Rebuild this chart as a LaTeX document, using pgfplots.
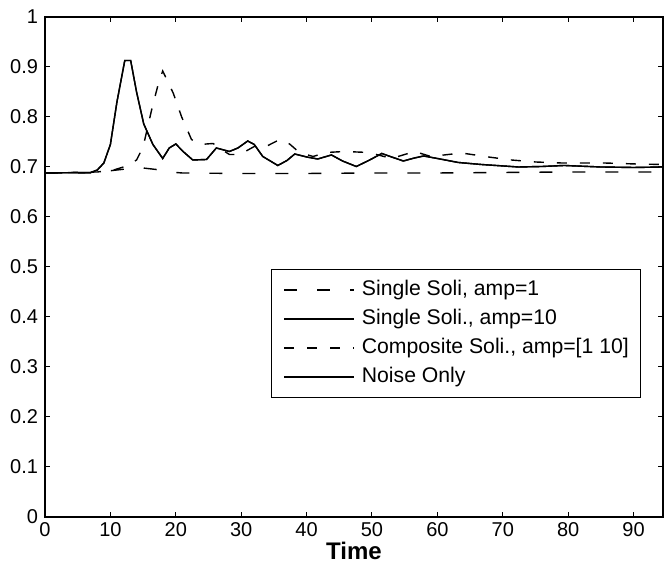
\documentclass[border=0pt]{standalone}
\usepackage{fontspec}
\setmainfont{Liberation Sans}
\usepackage{pgfplots}
\pgfplotsset{compat=1.18}
\begin{document}
\begin{tikzpicture}
\begin{axis}[
  scale only axis,
  width=309pt, height=250pt,
  xmin=0, xmax=94.5, ymin=0, ymax=1,
  xtick={0,10,...,90},
  ytick={0,0.1,...,1},
  yticklabels={0,0.1,0.2,0.3,0.4,0.5,0.6,0.7,0.8,0.9,1},
  tick align=inside,
  major tick length=2.5pt,
  tick style={line width=0.5pt, black},
  axis line style={line width=0.6pt},
  /pgf/number format/assume math mode=true,
  tick label style={font=\fontsize{10}{12}\selectfont},
  xlabel={Time},
  xlabel style={font=\bfseries\fontsize{12}{14}\selectfont, yshift=4pt},
  xticklabel style={yshift=1pt},
  legend style={at={(0.3657,0.238)}, anchor=south west, draw=black, line width=0.5pt,
    font=\fontsize{10.6}{13}\selectfont, inner xsep=6pt, inner ysep=5pt,
    nodes={inner sep=0pt, text height=8pt, text depth=2.5pt},
    row sep=4pt, column sep=3.5pt},
  legend cell align=left,
  legend image code/.code={\draw[#1] (0cm,0cm) -- (35pt,0cm);},
]
\addplot[black, line width=0.7pt, dash pattern=on 6.5pt off 10pt] coordinates {
(0,0.688)(7,0.688)(9,0.691)(11,0.694)(13,0.697)(15,0.698)(17,0.695)(19,0.690)(21,0.688)(30,0.687)(40,0.687)(50,0.688)(60,0.688)(70,0.689)(80,0.690)(94.5,0.690)};
\addlegendentry{Single Soli, amp=1}
\addplot[black, line width=0.7pt] coordinates {
(0,0.688)(7,0.689)(8,0.694)(9,0.708)(10,0.745)(11,0.83)(12.2,0.913)(13.1,0.913)(14,0.85)(15.1,0.786)(16.5,0.745)(18,0.717)(19,0.738)(20,0.746)(21.2,0.73)(22.6,0.714)(24.7,0.715)(26.2,0.738)(28.2,0.731)(29.5,0.738)(31,0.752)(32,0.745)(33.3,0.721)(35.6,0.703)(37,0.713)(38.2,0.726)(40,0.72)(41.7,0.716)(43.8,0.724)(45.5,0.712)(47.6,0.701)(49.5,0.713)(51.5,0.727)(53,0.72)(54.8,0.712)(56.5,0.718)(57.9,0.722)(60,0.717)(63.2,0.709)(66.7,0.705)(72.4,0.70)(76,0.701)(79.4,0.703)(85,0.70)(90,0.699)(94.5,0.70)};
\addlegendentry{Single Soli., amp=10}
\addplot[black, line width=0.7pt, dash pattern=on 5pt off 6.5pt] coordinates {
(0,0.688)(8,0.690)(10.5,0.694)(12.5,0.702)(14,0.714)(15,0.74)(16.3,0.814)(17.4,0.87)(18.0,0.892)(19.6,0.848)(20.9,0.80)(22.4,0.755)(23.7,0.745)(25.7,0.747)(27,0.735)(28.2,0.725)(29.8,0.725)(32,0.741)(33.8,0.741)(35.9,0.755)(37.4,0.746)(38.9,0.729)(41,0.721)(43,0.729)(45.8,0.731)(49.5,0.729)(53,0.717)(56.5,0.731)(59,0.721)(63.7,0.728)(67.8,0.72)(71.3,0.714)(75,0.71)(79,0.708)(85.5,0.708)(90.4,0.706)(94.5,0.705)};
\addlegendentry{Composite Soli., amp=[1 10]\hspace{19.7pt}}
\addplot[black, line width=0.7pt] coordinates {
(0,0.688)(7,0.689)(8,0.694)(9,0.708)(10,0.745)(11,0.83)(12.2,0.913)(13.1,0.913)(14,0.85)(15.1,0.786)(16.5,0.745)(18,0.717)(19,0.738)(20,0.746)(21.2,0.73)(22.6,0.714)(24.7,0.715)(26.2,0.738)(28.2,0.731)(29.5,0.738)(31,0.752)(32,0.745)(33.3,0.721)(35.6,0.703)(37,0.713)(38.2,0.726)(40,0.72)(41.7,0.716)(43.8,0.724)(45.5,0.712)(47.6,0.701)(49.5,0.713)(51.5,0.727)(53,0.72)(54.8,0.712)(56.5,0.718)(57.9,0.722)(60,0.717)(63.2,0.709)(66.7,0.705)(72.4,0.70)(76,0.701)(79.4,0.703)(85,0.70)(90,0.699)(94.5,0.70)};
\addlegendentry{Noise Only}
\end{axis}
\pgfresetboundingbox
\path (current axis.south west) ++(-22.5pt,-24pt) coordinate (bl);
\path (current axis.north east) ++(0.5pt,8.5pt) coordinate (tr);
\useasboundingbox (bl) rectangle (tr);
\end{tikzpicture}
\end{document}
